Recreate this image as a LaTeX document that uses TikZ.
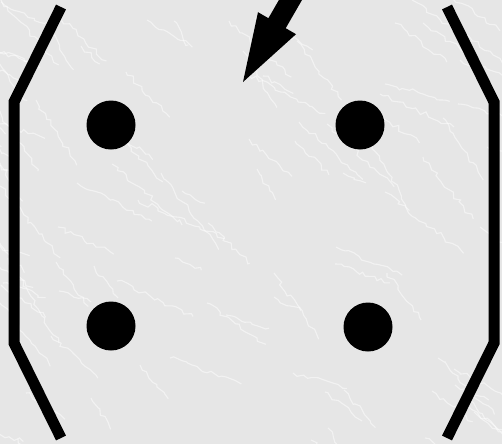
\documentclass[tikz,border=0pt]{standalone}
\usetikzlibrary{decorations.pathmorphing}
\definecolor{marble}{HTML}{E6E6E6}
\tikzset{
  bracketline/.style={line width=11pt, line join=miter, line cap=butt},
  dotnode/.style={circle, fill=black, minimum size=49pt, inner sep=0pt},
  vein/.style={white, opacity=0.5, line width=1.1pt, decorate, decoration={random steps, segment length=5pt, amplitude=2.5pt}},
}
\begin{document}
\begin{tikzpicture}[x=1pt, y=-1pt]
  \fill[marble] (0,0) rectangle (502,444);
  \useasboundingbox (0,0) rectangle (502,444);
  \begin{scope}
    \clip (0,0) rectangle (502,444);
    \pgfmathsetseed{11}
    \foreach \i in {1,...,110} {
      \pgfmathsetmacro{\xa}{random(-80,520)}
      \pgfmathsetmacro{\ya}{random(-30,440)}
      \pgfmathsetmacro{\len}{random(25,100)}
      \pgfmathsetmacro{\ang}{random(15,60)}
      \draw[vein] (\xa,\ya) -- ++(\ang:\len);
    }
  \end{scope}
  % brackets
  \coordinate (lt) at (61,7);
  \coordinate (lb1) at (14,102);
  \coordinate (lb2) at (14,343);
  \coordinate (lbt) at (61,438);
  \coordinate (rt) at (447,7);
  \coordinate (rb1) at (494,102);
  \coordinate (rb2) at (494,343);
  \coordinate (rbt) at (447,438);
  \draw[bracketline] (lt) -- (lb1) -- (lb2) -- (lbt);
  \draw[bracketline] (rt) -- (rb1) -- (rb2) -- (rbt);
  % dots
  \node[dotnode] (d11) at (111,125) {};
  \node[dotnode] (d12) at (360,125) {};
  \node[dotnode] (d21) at (111,326) {};
  \node[dotnode] (d22) at (368,327) {};
  % arrow
  \fill[black] (243,82) -- (296,34.2) -- (285.7,28.2) -- (305.7,-6.4) -- (288.4,-16.4) -- (268.4,18.2) -- (258,12.2) -- cycle;
\end{tikzpicture}
\end{document}
